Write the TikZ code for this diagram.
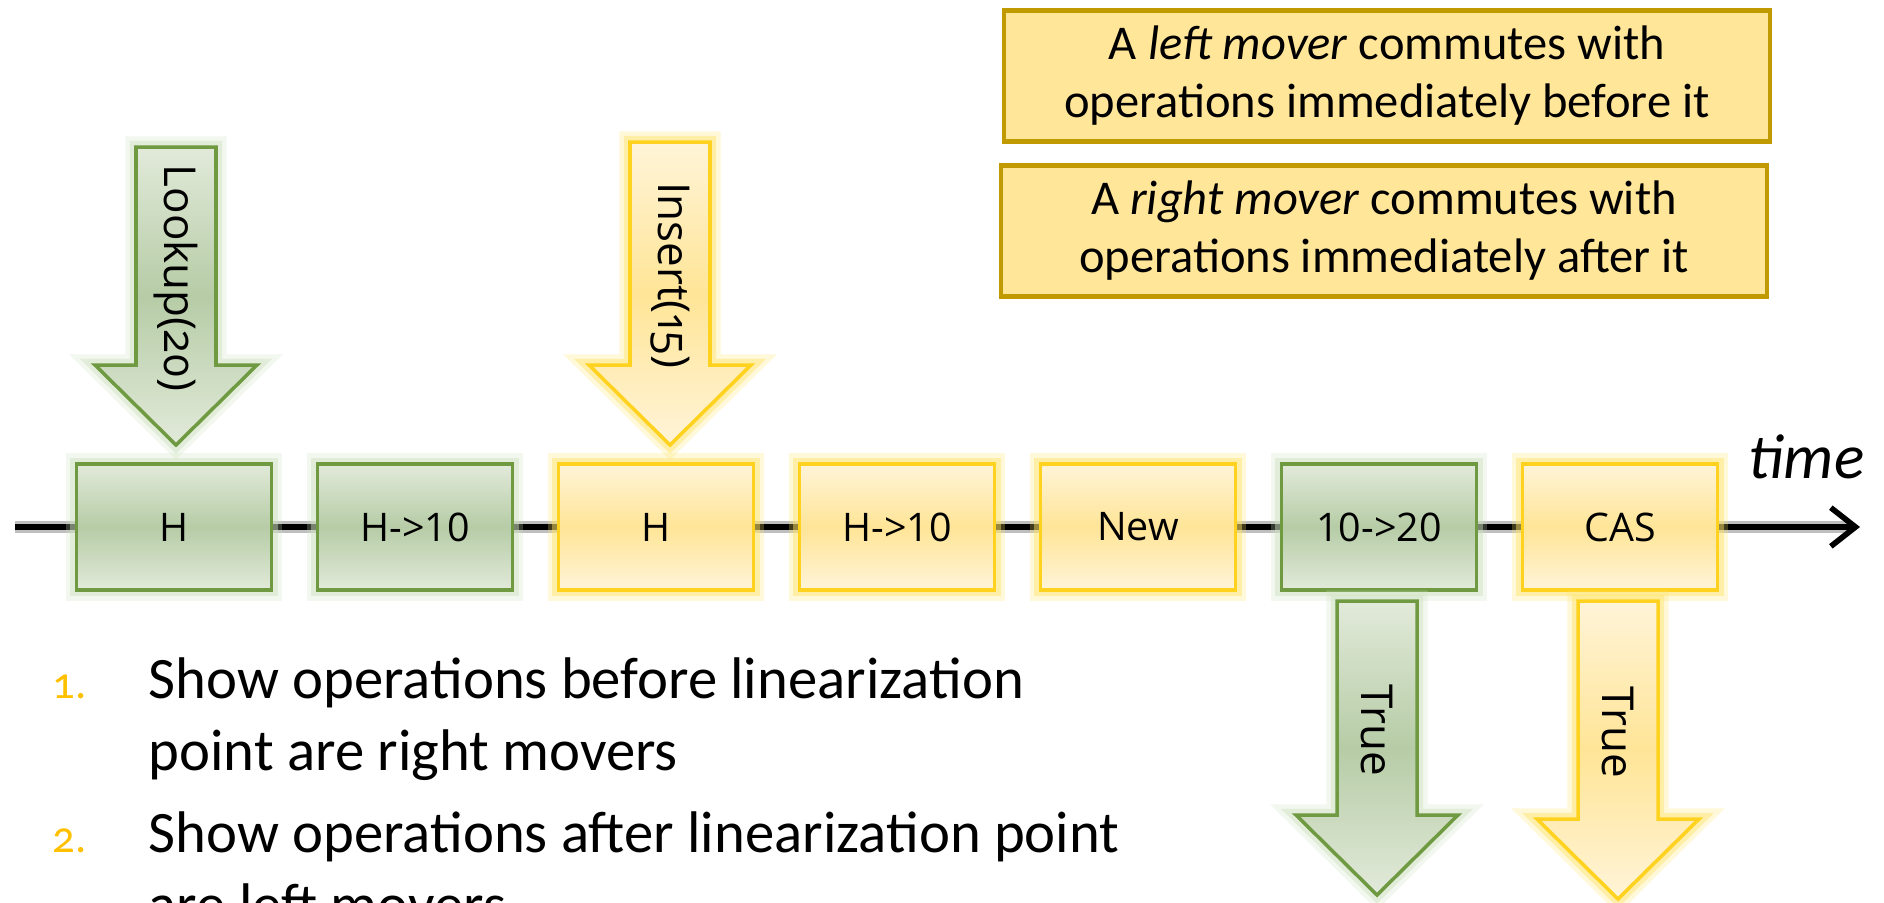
\documentclass[tikz,border=0pt]{standalone}
\usepackage{fontspec}
\setmainfont{Carlito}
\newfontfamily\opfont{Open Sans}
\newfontfamily\oldfig[Numbers=OldStyle]{Open Sans}
\newfontfamily\numfont[Numbers=OldStyle]{Carlito}
\usetikzlibrary{arrows.meta}

\definecolor{grnline}{HTML}{6F9A42}
\definecolor{grnlight}{HTML}{E2EADA}
\definecolor{grnmid}{HTML}{B6CCA6}
\definecolor{grnglow}{HTML}{CFE2C0}
\definecolor{ylwline}{HTML}{FFD21F}
\definecolor{ylwlight}{HTML}{FFF4D8}
\definecolor{ylwmid}{HTML}{FFE597}
\definecolor{ylwglow}{HTML}{FFE56A}
\definecolor{notefill}{HTML}{FFE699}
\definecolor{noteline}{HTML}{C09A00}
\definecolor{numgold}{HTML}{FFC000}

\begin{document}
\begin{tikzpicture}[x=0.01cm, y=-0.01cm,
    glow/.style={preaction={draw=#1glow, line width=6pt, opacity=0.25},
      preaction={draw=#1glow, line width=3.5pt, opacity=0.45}},
    opbox/.style={glow=#1, draw=#1line, line width=1pt, top color=#1light, bottom color=#1light,
      middle color=#1mid, minimum width=1.95cm, minimum height=1.26cm,
      font=\opfont\fontsize{11.2}{13}\selectfont},
    blockarr/.style={glow=#1, draw=#1line, line width=1pt, top color=#1light, bottom color=#1light,
      middle color=#1mid},
    arrlabel/.style={rotate=-90, font=\oldfig\fontsize{12.5}{14}\selectfont},
    notebox/.style={draw=noteline, line width=1.2pt, fill=notefill, minimum width=7.66cm,
      minimum height=1.31cm, align=center, font=\fontsize{13.8}{16.5}\selectfont},
    listtext/.style={anchor=base west, inner sep=0pt, font=\fontsize{16.7}{20}\selectfont},
    listnum/.style={anchor=base west, inner sep=0pt, text=numgold,
      font=\numfont\fontsize{12.7}{15}\selectfont}]

  \useasboundingbox (0,0) rectangle (1884,902);
  \fill[white] (0,0) rectangle (1884,902);
  \clip (0,0) rectangle (1884,902);

  % time line
  \coordinate (tstart) at (15,527);
  \coordinate (tend) at (1860,527);
  \draw[line width=3.5pt, black!25, shorten >=2pt] (tstart) -- (tend);
  \draw[line width=1.6pt, -{Straight Barb[length=7pt,width=11pt]}] (tstart) -- (tend);
  \node[anchor=base west, inner sep=0pt, font=\itshape\fontsize{18}{20}\selectfont] (timelbl) at (1748,478) {time};

  % operations
  \foreach \lbl/\col [count=\i] in {H/grn, H->10/grn, H/ylw, H->10/ylw, New/ylw, 10->20/grn, CAS/ylw}
    \node[opbox=\col] (op\i) at ({174+241*(\i-1)},527) {\lbl};

  % calls and results
  \foreach \ax/\atop/\atip/\col/\atxt/\aname in {176/147/445/grn/Lookup(20)/lookup,
      670/142/445/ylw/Insert(15)/insert, 1377/601/895/grn/True/trueA, 1618/601/899/ylw/True/trueB}{
    \draw[blockarr=\col] (\ax-40,\atop) -- (\ax+40,\atop) -- (\ax+40,\atip-80) -- (\ax+81,\atip-80)
      -- (\ax,\atip) -- (\ax-81,\atip-80) -- (\ax-40,\atip-80) -- cycle;
    \node[arrlabel] (\aname) at (\ax,{(\atop+\atip)/2-18}) {\atxt};
  }

  % movers
  \node[notebox] (leftmover) at (1387,76) {A \textit{left mover} commutes with\\operations immediately before it};
  \node[notebox] (rightmover) at (1384,231) {A \textit{right mover} commutes with\\operations immediately after it};

  % proof steps
  \node[listnum] (num1) at (52,698) {1.};
  \node[listtext] (step1a) at (148,698) {Show operations before linearization};
  \node[listtext] (step1b) at (148,770) {point are right movers};
  \node[listnum] (num2) at (52,852) {2.};
  \node[listtext] (step2a) at (148,852) {Show operations after linearization point};
  \node[listtext] (step2b) at (148,924) {are left movers};
\end{tikzpicture}
\end{document}
